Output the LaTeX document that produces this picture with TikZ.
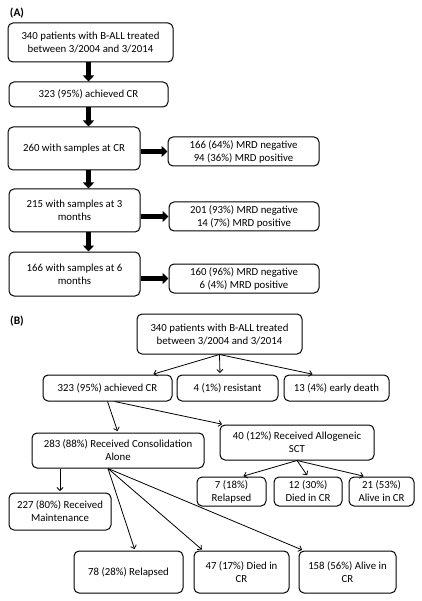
\documentclass[tikz,border=0pt]{standalone}
\usepackage{fontspec}
\setmainfont{Carlito}
\usetikzlibrary{arrows.meta,positioning}

\begin{document}
\begin{tikzpicture}[x=1pt, y=-1pt, line width=1pt, font=\fontsize{10.8}{13}\selectfont,
  box/.style={draw, rounded corners=5pt, align=center, inner sep=1pt},
  fat/.style={draw, line width=4.5pt, -{Triangle[length=6pt,width=11pt]}},
  thin/.style={draw, line width=0.8pt, shorten >=1.5pt, -{Straight Barb[length=3pt,width=6pt]}},
  panel/.style={font=\fontsize{11.5}{13}\selectfont\bfseries}]

  \useasboundingbox (0,0) rectangle (421,601);

  % (A)
  \node[panel] (la) at (17,13) {(A)};
  \node[box, minimum width=165pt, minimum height=39pt] (a1) at (90.5,42.5) {340 patients with B-ALL treated\\between 3/2004 and 3/2014};
  \node[box, minimum width=159pt, minimum height=25pt] (a2) at (88.5,94.5) {323 (95\%) achieved CR};
  \node[box, minimum width=132pt, minimum height=43pt] (a3) at (74,148.5) {260 with samples at CR};
  \node[box, minimum width=131pt, minimum height=43pt] (a4) at (74.5,210.5) {215 with samples at 3\\months};
  \node[box, minimum width=131pt, minimum height=44pt] (a5) at (74.5,274) {166 with samples at 6\\months};
  \node[box, minimum width=151pt, minimum height=29pt, right=27pt of a3, yshift=-3pt] (a3r) {166 (64\%) MRD negative\\94 (36\%) MRD positive};
  \node[box, minimum width=150pt, minimum height=29pt, right=28pt of a4, yshift=-6pt] (a4r) {201 (93\%) MRD negative\\14 (7\%) MRD positive};
  \node[box, minimum width=150pt, minimum height=29pt, right=28pt of a5, yshift=-4.5pt] (a5r) {160 (96\%) MRD negative\\6 (4\%) MRD positive};

  \path[every edge/.style={fat}]
    (a1.south -| a2) edge (a2.north)
    (a2.south) edge (a2.south |- a3.north)
    (a3.south -| a2) edge (a4.north -| a2)
    (a4.south -| a2) edge (a5.north -| a2)
    (a3r.west -| a3.east) edge (a3r.west)
    (a4r.west -| a4.east) edge (a4r.west)
    (a5r.west -| a5.east) edge (a5r.west);

  % (B)
  \node[panel] (lb) at (17,321) {(B)};
  \node[box, minimum width=165pt, minimum height=40pt] (b1) at (219.5,334) {340 patients with B-ALL treated\\between 3/2004 and 3/2014};
  \node[box, minimum width=129pt, minimum height=26pt] (b2) at (107.5,388) {323 (95\%) achieved CR};
  \node[box, minimum width=101pt, minimum height=26pt, right=4pt of b2] (b3) {4 (1\%) resistant};
  \node[box, minimum width=105pt, minimum height=26pt, right=5pt of b3] (b4) {13 (4\%) early death};
  \node[box, minimum width=172pt, minimum height=35pt] (b5) at (118,450.5) {283 (88\%) Received Consolidation\\Alone};
  \node[box, minimum width=154pt, minimum height=35pt] (b6) at (297,442.5) {40 (12\%) Received Allogeneic\\SCT};
  \node[box, minimum width=69pt, minimum height=29pt] (b7) at (231.5,491.5) {7 (18\%)\\Relapsed};
  \node[box, minimum width=68pt, minimum height=29pt, right=7pt of b7] (b8) {12 (30\%)\\Died in CR};
  \node[box, minimum width=65pt, minimum height=29pt, right=6pt of b8] (b9) {21 (53\%)\\Alive in CR};
  \node[box, minimum width=102pt, minimum height=37pt] (b10) at (60,511.5) {227 (80\%) Received\\Maintenance};
  \node[box, minimum width=109pt, minimum height=42pt] (b11) at (128.5,572) {78 (28\%) Relapsed};
  \node[box, minimum width=95pt, minimum height=42pt, right=10pt of b11] (b12) {47 (17\%) Died in\\CR};
  \node[box, minimum width=97pt, minimum height=42pt, right=9pt of b12] (b13) {158 (56\%) Alive in\\CR};

  \path[every edge/.style={thin}]
    (b1.south) edge ([xshift=44.5pt]b2.north)
    (b1.south) edge ([xshift=-7.5pt]b3.north)
    (b1.south) edge ([xshift=-22.5pt]b4.north)
    (b2.south) edge (b5.north)
    ([xshift=7pt]b2.south) edge ([xshift=4pt]b6.north west)
    (b6.south) edge ([xshift=10.5pt]b7.north)
    (b6.south) edge (b8.north)
    (b6.south) edge ([xshift=-16.5pt]b9.north)
    (b10.north |- b5.south) edge (b10.north)
    ([xshift=-10pt]b5.south) edge ([xshift=6.5pt]b11.north)
    ([xshift=-10pt]b5.south) edge ([xshift=-38.5pt]b12.north)
    ([xshift=-10pt]b5.south) edge ([xshift=5pt]b13.north west);
\end{tikzpicture}
\end{document}
